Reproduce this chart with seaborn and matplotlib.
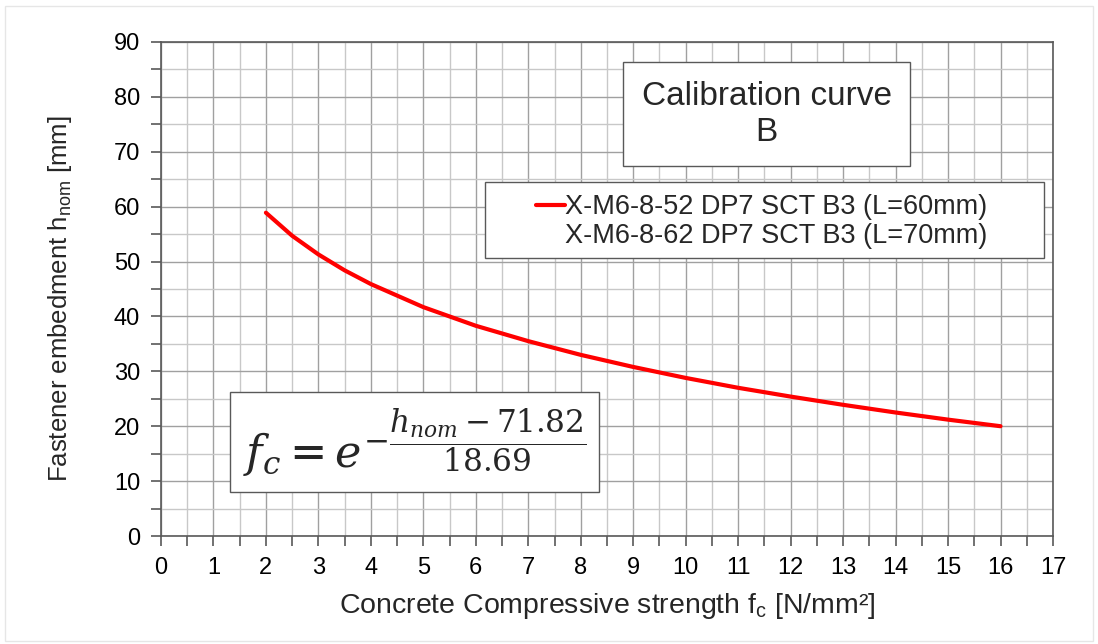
#!/usr/bin/env python3
"""Calibration curve B: fastener embedment vs concrete compressive strength."""

import matplotlib
matplotlib.use("Agg")
import matplotlib.pyplot as plt
from matplotlib.lines import Line2D
from matplotlib.patches import Rectangle
from matplotlib.ticker import MultipleLocator
import pandas as pd
import seaborn as sns

# values
fc_values = [2.0, 2.5, 3.0, 3.5, 4.0, 5.0, 6.0, 7.0, 8.0, 9.0, 10.0,
             11.0, 12.0, 13.0, 14.0, 15.0, 16.0]
h_nom_values = [58.9, 54.7, 51.3, 48.4, 45.9, 41.7, 38.3, 35.5, 33.0, 30.8,
                28.8, 27.0, 25.4, 23.9, 22.5, 21.2, 20.0]
series_labels = ["X-M6-8-52 DP7 SCT B3 (L=60mm)",
                 "X-M6-8-62 DP7 SCT B3 (L=70mm)"]
title_text = "Calibration curve\nB"
formula_text = r"$f_c = e^{-\dfrac{h_{nom}-71.82}{18.69}}$"

sns.set_theme(style="white")
plt.rcParams['font.family'] = ['Liberation Sans', 'DejaVu Sans']
plt.rcParams['mathtext.fontset'] = 'dejavuserif'

df = pd.DataFrame({"fc": fc_values, "h": h_nom_values})

fig = plt.figure(figsize=(10.98, 6.44), dpi=100)
# faint frame round the whole picture
fig.patches.append(Rectangle((0.005, 0.005), 0.99, 0.985, transform=fig.transFigure,
                             fill=False, edgecolor="#e6e6e6", linewidth=1.0))
ax = fig.add_axes([0.1466, 0.1677, 0.8124, 0.7671])

sns.lineplot(data=df, x="fc", y="h", color="#ff0000", linewidth=3, ax=ax)

ax.set_xlim(0, 17)
ax.set_ylim(0, 90)
ax.xaxis.set_major_locator(MultipleLocator(1))
ax.xaxis.set_minor_locator(MultipleLocator(0.5))
ax.yaxis.set_major_locator(MultipleLocator(10))
ax.yaxis.set_minor_locator(MultipleLocator(5))

ax.grid(which="major", color="#a0a0a0", linewidth=1.0)
ax.grid(which="minor", color="#c8c8c8", linewidth=1.0)
ax.set_axisbelow(True)

for side in ["left", "bottom", "top", "right"]:
    ax.spines[side].set_visible(True)
    ax.spines[side].set_color("#595959")
    ax.spines[side].set_linewidth(1.2)

ax.tick_params(which="both", direction="out", color="#595959", width=1.2,
               left=True, bottom=True)
ax.tick_params(which="major", length=7, labelsize=17, colors="#595959",
               labelcolor="black", pad=8)
ax.tick_params(which="minor", length=7)

ax.set_xlabel(r"Concrete Compressive strength f$_{\mathregular{c}}$ [N/mm²]",
              fontsize=20.5, labelpad=9)
ax.set_ylabel(r"Fastener embedment h$_{\mathregular{nom}}$ [mm]",
              fontsize=18.5, labelpad=10)
ax.yaxis.set_label_coords(-0.098, 0.48)

# title box
ax.text(0.679, 0.854, title_text, transform=ax.transAxes, ha="center",
        va="center", fontsize=24, linespacing=1.2,
        bbox=dict(boxstyle="square,pad=0.55", facecolor="white",
                  edgecolor="#595959", linewidth=1.0))

# legend frame drawn by hand: it is wider than its entries
ax.add_patch(Rectangle((0.363, 0.563), 0.627, 0.1536, transform=ax.transAxes,
                       facecolor="white", edgecolor="#595959", linewidth=1.0,
                       zorder=4))
handles = [Line2D([], [], color="#ff0000", linewidth=3),
           Line2D([], [], color="none", linewidth=3)]
leg = ax.legend(handles, series_labels, loc="upper left",
                bbox_to_anchor=(0.42, 0.692), fontsize=19.5, frameon=False,
                handlelength=1.1, handletextpad=0.0, borderpad=0,
                labelspacing=0.1, borderaxespad=0)
leg.set_zorder(5)

# formula box
ax.text(0.092, 0.19, formula_text, transform=ax.transAxes, ha="left",
        va="center", fontsize=32, zorder=5,
        bbox=dict(boxstyle="square,pad=0.3", facecolor="white",
                  edgecolor="#595959", linewidth=1.0))

fig.savefig("out.png", dpi=100)
